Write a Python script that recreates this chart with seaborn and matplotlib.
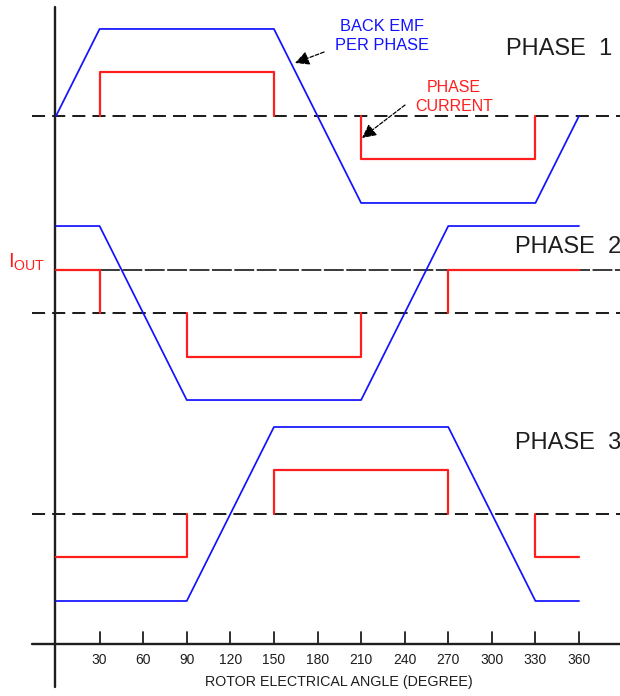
import matplotlib
matplotlib.use("Agg")
import matplotlib.pyplot as plt
import pandas as pd
import seaborn as sns

# Trapezoidal back EMF of each phase, normalised to a peak of 1
emf_angle_1 = [0, 30, 150, 210, 330, 360]
emf_level_1 = [0, 1, 1, -1, -1, 0]
emf_angle_2 = [0, 30, 90, 210, 270, 360]
emf_level_2 = [1, 1, -1, -1, 1, 1]
emf_angle_3 = [0, 90, 150, 270, 330, 360]
emf_level_3 = [-1, -1, 1, 1, -1, -1]

# Phase current strokes, in units of I_OUT (one list per pen stroke)
cur_angle_1 = [[30, 30, 150, 150], [210, 210, 330, 330]]
cur_level_1 = [[0, 1, 1, 0], [0, -1, -1, 0]]
cur_angle_2 = [[0, 30, 30], [90, 90, 210, 210], [270, 270, 360]]
cur_level_2 = [[1, 1, 0], [0, -1, -1, 0], [0, 1, 1]]
cur_angle_3 = [[0, 90, 90], [150, 150, 270, 270], [330, 330, 360]]
cur_level_3 = [[-1, -1, 0], [0, 1, 1, 0], [0, -1, -1]]

# Current amplitude relative to the EMF peak
i_out = 0.5

tick_angles = [30, 60, 90, 120, 150, 180, 210, 240, 270, 300, 330, 360]
tick_labels = ["30", "60", "90", "120", "150", "180", "210", "240",
               "270", "300", "330", "360"]
phase_names = ["PHASE  1", "PHASE  2", "PHASE  3"]

# vertical placement of each phase's zero line
base = {1: 4.575, 2: 2.31, 3: 0.0}

emf = {1: (emf_angle_1, emf_level_1), 2: (emf_angle_2, emf_level_2),
       3: (emf_angle_3, emf_level_3)}
cur = {1: (cur_angle_1, cur_level_1), 2: (cur_angle_2, cur_level_2),
       3: (cur_angle_3, cur_level_3)}

rows_emf, rows_cur = [], []
for p in (1, 2, 3):
    for a, v in zip(*emf[p]):
        rows_emf.append({"piece": f"e{p}", "angle": a, "y": base[p] + v})
    for k, (angs, levs) in enumerate(zip(*cur[p])):
        for a, v in zip(angs, levs):
            rows_cur.append({"piece": f"c{p}{k}", "angle": a,
                             "y": base[p] + v * i_out})
df_emf = pd.DataFrame(rows_emf)
df_cur = pd.DataFrame(rows_cur)

sns.set_style("white")
plt.rcParams["font.family"] = ["Liberation Sans", "DejaVu Sans"]

BLUE = "#1212ff"
RED = "#ff1e1e"
INK = "#1e1e1e"

fig = plt.figure(figsize=(6.2, 6.96), dpi=100)
ax = fig.add_axes([0, 0, 1, 1])

# zero lines of each phase and the I_OUT reference line
for p in (1, 2, 3):
    ax.plot([-16.5, 390], [base[p], base[p]], color=INK, lw=1.45,
            ls=(0, (6.5, 3.5)), zorder=1)
ax.plot([30, 390], [base[2] + i_out, base[2] + i_out], color="#2a2a2a",
        lw=1.3, ls=(0, (11, 1.4)), zorder=1)

sns.lineplot(data=df_emf, x="angle", y="y", units="piece", estimator=None,
             sort=False, color=BLUE, lw=1.25, ax=ax, zorder=3)
sns.lineplot(data=df_cur, x="angle", y="y", units="piece", estimator=None,
             sort=False, color=RED, lw=1.6, ax=ax, zorder=4)
ax.set_xlim(-38.55, 388.2)
ax.set_ylim(-2.092, 5.908)
ax.set_axis_off()

# drawn axes with upward ticks
axis_y = -1.494
ax.plot([-0.5, -0.5], [-1.99, 5.83], color=INK, lw=1.7, zorder=2)
ax.plot([-16.5, 390], [axis_y, axis_y], color=INK, lw=1.7, zorder=2)
for a, lab in zip(tick_angles, tick_labels):
    ax.plot([a, a], [axis_y, axis_y + 0.138], color=INK, lw=1.3, zorder=2)
    ax.text(a, -1.678, lab, ha="center", va="center", fontsize=10,
            color=INK)
ax.text(194.8, -1.931, "ROTOR ELECTRICAL ANGLE (DEGREE)", ha="center",
        va="center", fontsize=10.3, color=INK)

# phase titles
ax.text(309.7, 5.345, phase_names[0], ha="left", va="center", fontsize=17,
        color=INK)
ax.text(316.0, 3.069, phase_names[1], ha="left", va="center", fontsize=17,
        color=INK)
ax.text(316.0, 0.816, phase_names[2], ha="left", va="center", fontsize=17,
        color=INK)

# callouts
ax.text(224.4, 5.494, "BACK EMF\nPER PHASE", ha="center", va="center",
        fontsize=11.8, color=BLUE, linespacing=1.32)
ax.text(274.0, 4.793, "PHASE\nCURRENT", ha="center", va="center",
        fontsize=11.5, color=RED, linespacing=1.32)
ax.text(-7.6, base[2] + i_out + 0.08, r"$\mathregular{I_{OUT}}$",
        ha="right", va="center", fontsize=14.5, color=RED)

arrow = dict(arrowstyle="-|>", color="black", lw=0.9, ls=(0, (3, 1.5)),
             mutation_scale=21, shrinkA=0, shrinkB=0)
ax.annotate("", xy=(164.5, 5.184), xytext=(184.5, 5.31), arrowprops=arrow)
ax.annotate("", xy=(210.6, 4.322), xytext=(240.2, 4.701), arrowprops=arrow)

fig.savefig("out.png", dpi=100)
